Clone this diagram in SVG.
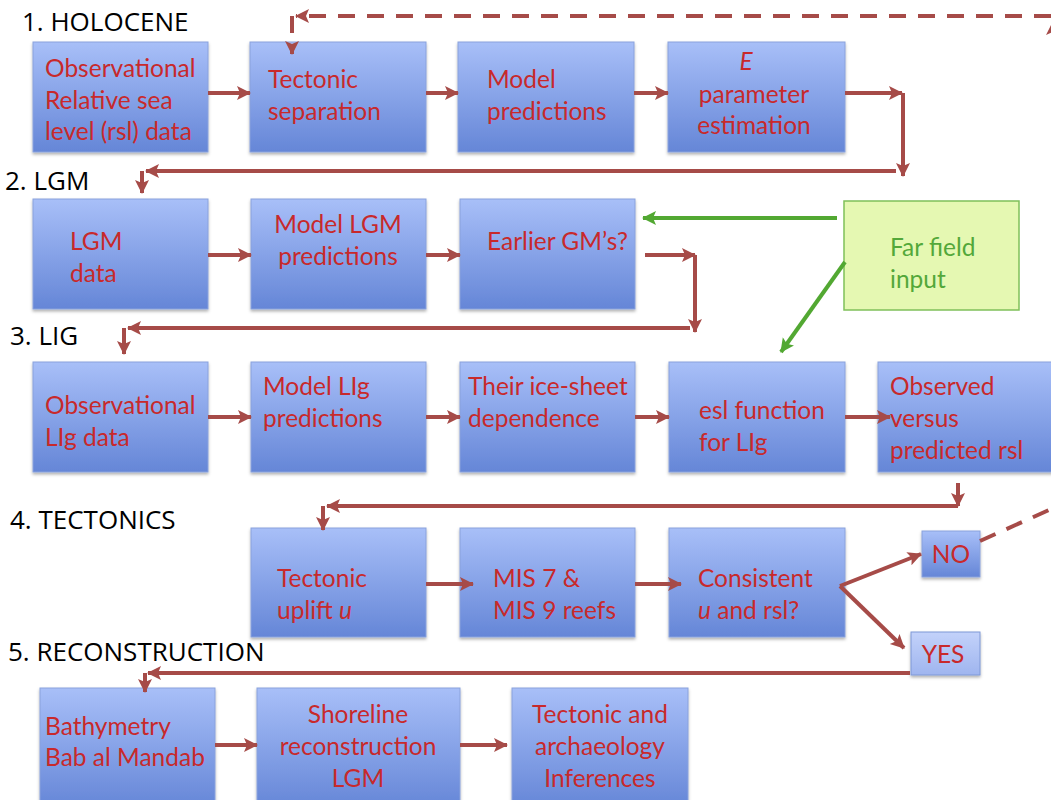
<svg xmlns="http://www.w3.org/2000/svg" width="1051" height="800" viewBox="0 0 1051 800">
<style>
.box{fill:url(#bg);stroke:#8aa2dc;stroke-width:1;filter:url(#sh)}
.small{fill:url(#bg2);stroke:#7f98d6;stroke-width:1;filter:url(#sh)}
.ff{fill:#e5f8b2;stroke:#7fc05a;stroke-width:1.5}
.t{font-family:Lato,"Liberation Sans",sans-serif;font-size:24.5px;fill:#c8292b}
.g{font-family:Lato,"Liberation Sans",sans-serif;font-size:24.5px;fill:#53a83a}
.h{font-family:"Open Sans","Liberation Sans",sans-serif;font-size:26px;fill:#000}
.c{fill:none;stroke:#a64b48;stroke-width:4}
.d{fill:none;stroke:#a64b48;stroke-width:4;stroke-dasharray:17 12}
.gc{fill:none;stroke:#52a832;stroke-width:4}
.mid{text-anchor:middle}
</style>
<defs>
<linearGradient id="bg" x1="0" y1="0" x2="0" y2="1"><stop offset="0" stop-color="#a8bff8"/><stop offset="1" stop-color="#6586d7"/></linearGradient>
<linearGradient id="bg2" x1="0" y1="0" x2="0" y2="1"><stop offset="0" stop-color="#c3d2fa"/><stop offset="1" stop-color="#9fb5ef"/></linearGradient>
<filter id="sh" x="-10%" y="-10%" width="120%" height="130%"><feDropShadow dx="0" dy="2" stdDeviation="1.5" flood-color="#000" flood-opacity="0.3"/></filter>
<marker id="ar" markerUnits="userSpaceOnUse" markerWidth="16" markerHeight="16" refX="13" refY="7" orient="auto"><path d="M0,0 L14,7 L0,14 L3,7 Z" fill="#a64b48"/></marker>
<marker id="ag" markerUnits="userSpaceOnUse" markerWidth="16" markerHeight="16" refX="13" refY="7" orient="auto"><path d="M0,0 L14,7 L0,14 L3,7 Z" fill="#52a832"/></marker>
</defs>

<g id="headings">
<text class="h" x="22" y="31">1.  HOLOCENE</text>
<text class="h" x="5" y="190">2.  LGM</text>
<text class="h" x="10" y="345">3.  LIG</text>
<text class="h" x="10" y="529">4.  TECTONICS</text>
<text class="h" x="8" y="661">5. RECONSTRUCTION</text>
</g>

<g id="n-obs-rsl"><rect class="box" x="33" y="42" width="175" height="110"/>
<text class="t" x="45" y="77">Observational</text><text class="t" x="45" y="109">Relative sea</text><text class="t" x="45" y="140">level (rsl) data</text></g>
<g id="n-tect-sep"><rect class="box" x="250" y="42" width="176" height="110"/>
<text class="t" x="268" y="88">Tectonic</text><text class="t" x="268" y="120">separation</text></g>
<g id="n-model-pred"><rect class="box" x="458" y="42" width="176" height="110"/>
<text class="t" x="487" y="88">Model</text><text class="t" x="487" y="120">predictions</text></g>
<g id="n-e-param"><rect class="box" x="668" y="42" width="177" height="110"/>
<text class="t mid" x="746" y="70" font-style="italic">E</text><text class="t mid" x="754" y="103">parameter</text><text class="t mid" x="754" y="134">estimation</text></g>

<g id="n-lgm-data"><rect class="box" x="33" y="199" width="175" height="110"/>
<text class="t" x="70" y="250">LGM</text><text class="t" x="70" y="282">data</text></g>
<g id="n-model-lgm"><rect class="box" x="251" y="199" width="175" height="110"/>
<text class="t mid" x="338" y="233">Model LGM</text><text class="t mid" x="338" y="265">predictions</text></g>
<g id="n-earlier-gm"><rect class="box" x="460" y="199" width="175" height="110"/>
<text class="t" x="487" y="250">Earlier GM’s?</text></g>
<g id="n-far-field"><rect class="ff" x="844" y="201" width="175" height="109"/>
<text class="g" x="890" y="256">Far field</text><text class="g" x="890" y="288">input</text></g>

<g id="n-obs-lig"><rect class="box" x="33" y="362" width="175" height="110"/>
<text class="t" x="45" y="414">Observational</text><text class="t" x="45" y="446">LIg data</text></g>
<g id="n-model-lig"><rect class="box" x="251" y="362" width="175" height="110"/>
<text class="t" x="263" y="395">Model LIg</text><text class="t" x="263" y="427">predictions</text></g>
<g id="n-ice-sheet"><rect class="box" x="460" y="362" width="175" height="110"/>
<text class="t" x="468" y="395">Their ice-sheet</text><text class="t" x="468" y="427">dependence</text></g>
<g id="n-esl"><rect class="box" x="669" y="362" width="176" height="110"/>
<text class="t" x="699" y="419">esl function</text><text class="t" x="699" y="451">for LIg</text></g>
<g id="n-obs-vs-pred"><rect class="box" x="878" y="362" width="176" height="110"/>
<text class="t" x="890" y="395">Observed</text><text class="t" x="890" y="427">versus</text><text class="t" x="890" y="459">predicted rsl</text></g>

<g id="n-uplift"><rect class="box" x="251" y="528" width="175" height="109"/>
<text class="t" x="277" y="587">Tectonic</text><text class="t" x="277" y="619">uplift <tspan font-style="italic">u</tspan></text></g>
<g id="n-mis"><rect class="box" x="460" y="528" width="175" height="109"/>
<text class="t" x="493" y="587">MIS 7 &amp;</text><text class="t" x="493" y="619">MIS 9 reefs</text></g>
<g id="n-consistent"><rect class="box" x="669" y="528" width="176" height="109"/>
<text class="t" x="698" y="587">Consistent</text><text class="t" x="698" y="619"><tspan font-style="italic">u</tspan> and rsl?</text></g>
<g id="n-no"><rect class="box" x="922" y="531" width="58" height="46"/>
<text class="t mid" x="951" y="563">NO</text></g>
<g id="n-yes"><rect class="small" x="911" y="632" width="69" height="43"/>
<text class="t mid" x="943" y="663">YES</text></g>

<g id="n-bathymetry"><rect class="box" x="40" y="688" width="175" height="120"/>
<text class="t" x="45" y="735">Bathymetry</text><text class="t" x="45" y="766">Bab al Mandab</text></g>
<g id="n-shoreline"><rect class="box" x="257" y="688" width="203" height="120"/>
<text class="t mid" x="358" y="723">Shoreline</text><text class="t mid" x="358" y="755">reconstruction</text><text class="t mid" x="358" y="787">LGM</text></g>
<g id="n-inferences"><rect class="box" x="512" y="688" width="176" height="120"/>
<text class="t mid" x="600" y="723">Tectonic and</text><text class="t mid" x="600" y="755">archaeology</text><text class="t mid" x="600" y="787">Inferences</text></g>

<g id="connectors">
<line class="c" x1="208" y1="93" x2="250" y2="93" marker-end="url(#ar)"/>
<line class="c" x1="426" y1="93" x2="458" y2="93" marker-end="url(#ar)"/>
<line class="c" x1="634" y1="93" x2="668" y2="93" marker-end="url(#ar)"/>
<line class="c" x1="845" y1="93" x2="902" y2="93" marker-end="url(#ar)"/>
<line class="c" x1="903" y1="93" x2="903" y2="176" marker-end="url(#ar)"/>
<line class="c" x1="896" y1="171" x2="146" y2="171" marker-end="url(#ar)"/>
<line class="c" x1="142" y1="171" x2="142" y2="193" marker-end="url(#ar)"/>
<line class="d" x1="1053" y1="505" x2="1053" y2="22" marker-end="url(#ar)"/>
<line class="d" x1="1051" y1="16" x2="296" y2="16" marker-end="url(#ar)"/>
<line class="d" x1="292" y1="16" x2="292" y2="54" marker-end="url(#ar)"/>
<line class="d" x1="980" y1="541" x2="1060" y2="505"/>
<line class="c" x1="208" y1="255" x2="251" y2="255" marker-end="url(#ar)"/>
<line class="c" x1="426" y1="255" x2="460" y2="255" marker-end="url(#ar)"/>
<line class="c" x1="645" y1="255" x2="695" y2="255" marker-end="url(#ar)"/>
<line class="c" x1="695" y1="255" x2="695" y2="332" marker-end="url(#ar)"/>
<line class="c" x1="690" y1="328" x2="128" y2="328" marker-end="url(#ar)"/>
<line class="c" x1="124" y1="328" x2="124" y2="354" marker-end="url(#ar)"/>
<line class="gc" x1="837" y1="218" x2="643" y2="218" marker-end="url(#ag)"/>
<line class="gc" x1="845" y1="262" x2="781" y2="352" marker-end="url(#ag)"/>
<line class="c" x1="208" y1="417" x2="251" y2="417" marker-end="url(#ar)"/>
<line class="c" x1="426" y1="417" x2="460" y2="417" marker-end="url(#ar)"/>
<line class="c" x1="635" y1="417" x2="669" y2="417" marker-end="url(#ar)"/>
<line class="c" x1="845" y1="417" x2="890" y2="417" marker-end="url(#ar)"/>
<line class="c" x1="958" y1="483" x2="958" y2="506" marker-end="url(#ar)"/>
<line class="c" x1="958" y1="506" x2="327" y2="506" marker-end="url(#ar)"/>
<line class="c" x1="323" y1="506" x2="323" y2="530" marker-end="url(#ar)"/>
<line class="c" x1="426" y1="584" x2="473" y2="584" marker-end="url(#ar)"/>
<line class="c" x1="635" y1="584" x2="681" y2="584" marker-end="url(#ar)"/>
<line class="c" x1="840" y1="586" x2="921" y2="554" marker-end="url(#ar)"/>
<line class="c" x1="840" y1="586" x2="904" y2="648" marker-end="url(#ar)"/>
<line class="c" x1="910" y1="673" x2="148" y2="673" marker-end="url(#ar)"/>
<line class="c" x1="145" y1="673" x2="145" y2="692" marker-end="url(#ar)"/>
<line class="c" x1="215" y1="745" x2="257" y2="745" marker-end="url(#ar)"/>
<line class="c" x1="460" y1="745" x2="507" y2="745" marker-end="url(#ar)"/>
</g>
</svg>
